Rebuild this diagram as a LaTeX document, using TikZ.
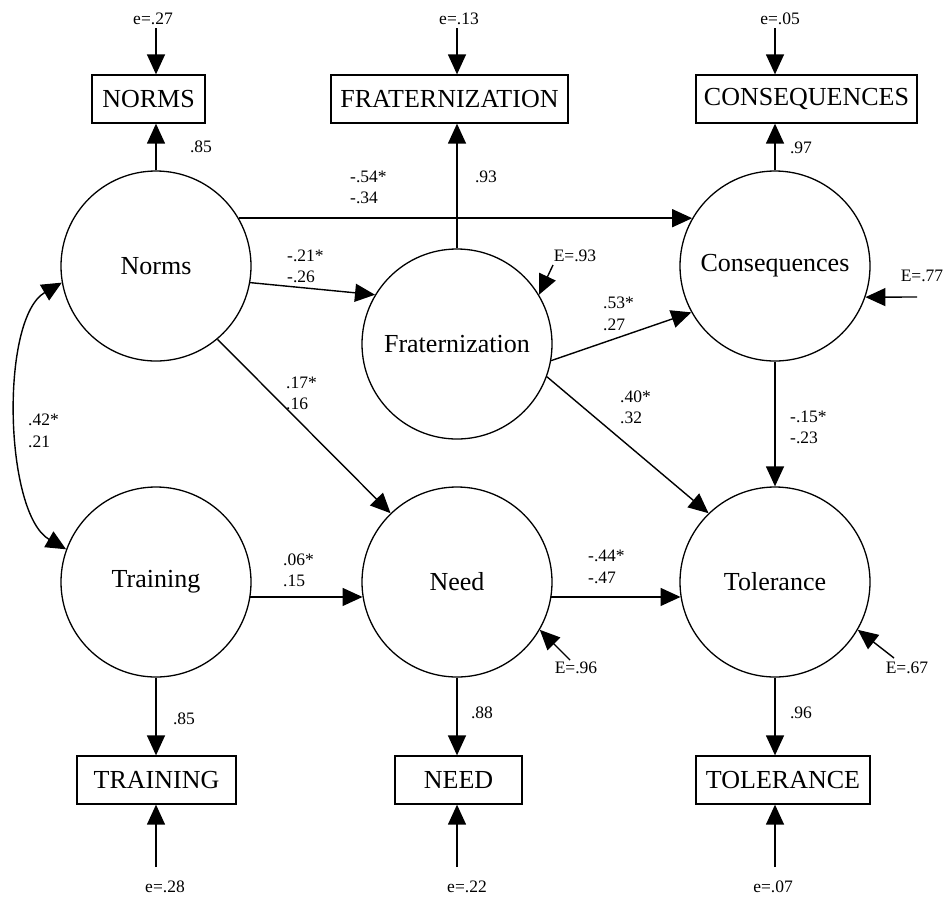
\documentclass[tikz,border=0pt]{standalone}
\usepackage{fontspec}
\setmainfont{Liberation Serif}
\usetikzlibrary{arrows.meta}

\begin{document}
\begin{tikzpicture}[x=1pt,y=-1pt,
  every node/.style={inner sep=0pt},
  latent/.style={circle,draw,line width=1.3pt,minimum size=190pt,
    font=\fontsize{26}{30}\selectfont},
  manifest/.style={rectangle,draw,line width=1.3pt,minimum height=48pt,
    font=\fontsize{26}{30}\selectfont},
  coef/.style={font=\fontsize{17.5}{21.5}\selectfont,align=left,anchor=west},
  lbl/.style={font=\fontsize{17.5}{21}\selectfont},
  path/.style={line width=1.4pt,-{Triangle[length=20pt,width=18pt]}},
  twoway/.style={line width=1.4pt,{Triangle[length=20pt,width=18pt]}-{Triangle[length=20pt,width=18pt]}}
]
\useasboundingbox (0,0) rectangle (945,898);

% latent variables
\node[latent] (norms) at (156,266) {Norms};
\node[latent] (frat)  at (457,344) {Fraternization};
\node[latent] (cons)  at (775,266) {Consequences};
\node[latent] (train) at (156,582) {Training};
\node[latent] (need)  at (457,582) {Need};
\node[latent] (tol)   at (775,582) {Tolerance};

% indicators
\node[manifest,minimum width=113pt] (bN)  at (148.5,99) {NORMS};
\node[manifest,minimum width=237pt] (bF)  at (449.5,99) {FRATERNIZATION};
\node[manifest,minimum width=221pt] (bC)  at (806.5,99) {CONSEQUENCES};
\node[manifest,minimum width=159pt] (bT)  at (156.5,780) {TRAINING};
\node[manifest,minimum width=127pt] (bNe) at (458.5,780) {NEED};
\node[manifest,minimum width=174pt] (bTo) at (783,780) {TOLERANCE};

% loadings
\draw[path] (norms.north) -- (norms.north |- bN.south);
\draw[path] (frat.north)  -- (frat.north |- bF.south);
\draw[path] (cons.north)  -- (cons.north |- bC.south);
\draw[path] (train.south) -- (train.south |- bT.north);
\draw[path] (need.south)  -- (need.south |- bNe.north);
\draw[path] (tol.south)   -- (tol.south |- bTo.north);
\node[lbl] at (201,147) {.85};
\node[lbl] at (486,177) {.93};
\node[lbl] at (801,148) {.97};
\node[lbl] at (184,719) {.85};
\node[lbl] at (482,713) {.88};
\node[lbl] at (801,713) {.96};

% measurement errors
\coordinate (eN)  at (156,28);
\coordinate (eF)  at (457,28);
\coordinate (eC)  at (775,28);
\coordinate (eT)  at (156,867);
\coordinate (eNe) at (457,867);
\coordinate (eTo) at (775,867);
\draw[path] (eN)  -- (eN |- bN.north);
\draw[path] (eF)  -- (eF |- bF.north);
\draw[path] (eC)  -- (eC |- bC.north);
\draw[path] (eT)  -- (eT |- bT.south);
\draw[path] (eNe) -- (eNe |- bNe.south);
\draw[path] (eTo) -- (eTo |- bTo.south);
\node[lbl] at (153,19)  {e=.27};
\node[lbl] at (459,19)  {e=.13};
\node[lbl] at (780,19)  {e=.05};
\node[lbl] at (165,887) {e=.28};
\node[lbl] at (467,887) {e=.22};
\node[lbl] at (773,887) {e=.07};

% structural paths
\draw[path] (norms.30)  -- (cons.150);
\draw[path] (norms.-10) -- (frat.149);
\draw[path] (norms.-50) -- (need.134);
\draw[path] (frat.-10)  -- (cons.209);
\draw[path] (frat.-20)  -- (tol.134);
\draw[path] (cons.south) -- (tol.north);
\draw[path] (train.-9)  -- (need.189);
\draw[path] (need.-9)   -- (tol.189);
\draw[twoway] (norms.190) .. controls +(-62,36) and +(-62,-36) .. (train.160);

\node[coef] at (350,187.5) {-.54*\\-.34};
\node[coef] at (287,266.5) {-.21*\\-.26};
\node[coef] at (286,393.5) {.17*\\.16};
\node[coef] at (603,314)   {.53*\\.27};
\node[coef] at (620,407.5) {.40*\\.32};
\node[coef] at (790,427.5) {-.15*\\-.23};
\node[coef] at (28,431)    {.42*\\.21};
\node[coef] at (283,570.5) {.06*\\.15};
\node[coef] at (588,567)   {-.44*\\-.47};

% disturbances
\coordinate (dF)  at (553,265);
\coordinate (dC)  at (917,297);
\coordinate (dNe) at (570,660);
\coordinate (dTo) at (894,658);
\draw[path] (dF)  -- (frat.31);
\draw[path] (dC)  -- (cons.-19);
\draw[path] (dNe) -- (need.-30);
\draw[path] (dTo) -- (tol.-30);
\node[lbl] at (575,256) {E=.93};
\node[lbl] at (922,276) {E=.77};
\node[lbl] at (576,668) {E=.96};
\node[lbl] at (907,668) {E=.67};
\end{tikzpicture}
\end{document}
